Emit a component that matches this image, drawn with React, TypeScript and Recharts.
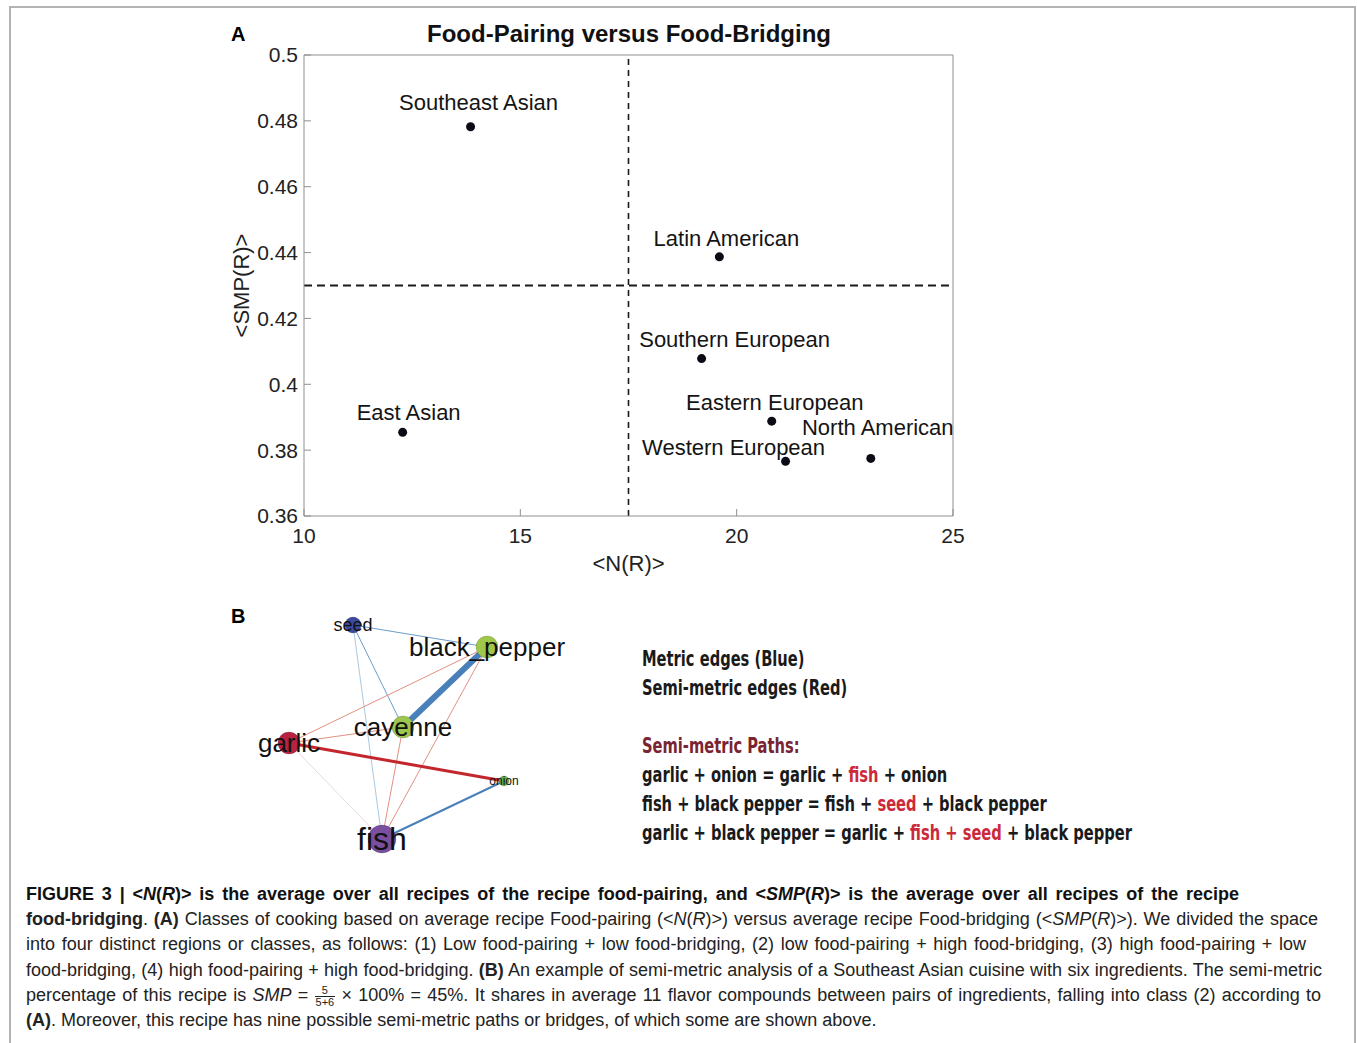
import { ScatterChart, Scatter, XAxis, YAxis, ReferenceLine, Label } from "recharts";

// panel A: average recipe food-pairing <N(R)> vs food-bridging <SMP(R)>
const CUISINES = [
  "Southeast Asian",
  "Latin American",
  "Southern European",
  "Eastern European",
  "North American",
  "Western European",
  "East Asian",
];
const FOOD_PAIRING = [13.85, 19.6, 19.19, 20.81, 23.1, 21.13, 12.28];
const FOOD_BRIDGING = [0.4782, 0.4387, 0.4078, 0.3888, 0.3775, 0.3766, 0.3854];
const X_TICKS = [10, 15, 20, 25];
const Y_TICKS = [0.36, 0.38, 0.4, 0.42, 0.44, 0.46, 0.48, 0.5];
const PAIRING_SPLIT = 17.5;
const BRIDGING_SPLIT = 0.43;

// panel B: ingredient network of one Southeast Asian recipe
const INGREDIENTS = ["seed", "black_pepper", "cayenne", "garlic", "onion", "fish"];
const LAYOUT_X = [113, 247, 163, 49, 264, 142];
const LAYOUT_Y = [240, 218, 138, 122, 84, 26];
const EDGE_FROM = ["seed", "seed", "seed", "black_pepper", "black_pepper", "black_pepper", "cayenne", "cayenne", "garlic", "garlic", "onion"];
const EDGE_TO = ["black_pepper", "cayenne", "fish", "cayenne", "garlic", "fish", "garlic", "fish", "onion", "fish", "fish"];
const EDGE_WEIGHT = [1, 1, 0.6, 6, 1, 1, 1, 1, 3, 0.4, 2];
const EDGE_KIND = ["metric", "metric", "metric", "metric", "semi", "semi", "semi", "semi", "semi", "semi", "metric"];

// label placement (px, relative to the dot)
const LABEL_OFFSET: Record<string, [number, number]> = {
  "Southeast Asian": [8, -24],
  "Latin American": [7, -18],
  "Southern European": [33, -19],
  "Eastern European": [3, -19],
  "North American": [7, -31],
  "Western European": [-52, -14],
  "East Asian": [6, -20],
};

const NODE_COLOR: Record<string, string> = {
  seed: "#3c4b9e",
  black_pepper: "#9fc84b",
  cayenne: "#9cc64d",
  garlic: "#b72241",
  onion: "#6aaf4b",
  fish: "#7a4f9f",
};
const NODE_FONT: Record<number, number> = { 2: 12, 3: 18, 4: 26, 5: 32 };

function edgeColor(kind: string, w: number) {
  if (kind === "metric") return w >= 2 ? "#4a80b9" : w >= 1 ? "#6b9dcc" : "#a9c8e2";
  return w >= 2 ? "#c3262c" : w >= 1 ? "#e2907f" : "#eadada";
}

const cuisineData = CUISINES.map((name, i) => ({ name, x: FOOD_PAIRING[i], y: FOOD_BRIDGING[i] }));

const degree = INGREDIENTS.map(
  (n) => EDGE_FROM.filter((f) => f === n).length + EDGE_TO.filter((t) => t === n).length
);
const nodes = INGREDIENTS.map((name, i) => ({ name, x: LAYOUT_X[i], y: LAYOUT_Y[i], degree: degree[i] }));
const nodeByName = Object.fromEntries(nodes.map((n) => [n.name, n]));

const fmtY = (v: number) => String(Number(v.toFixed(2)));

function CuisineDot(props: any) {
  const { cx, cy, payload } = props;
  const [dx, dy] = LABEL_OFFSET[payload.name] ?? [0, -20];
  return (
    <g>
      <circle cx={cx} cy={cy} r={4.5} fill="#0b0b16" />
      <text x={cx + dx} y={cy + dy} textAnchor="middle" dominantBaseline="central" fontSize={22} fill="#141414">
        {payload.name}
      </text>
    </g>
  );
}

function IngredientNode(props: any) {
  const { cx, cy, payload } = props;
  const r = 3 * payload.degree - 1;
  return (
    <g>
      <circle cx={cx} cy={cy} r={r} fill={NODE_COLOR[payload.name]} stroke="rgba(0,0,0,0.25)" strokeWidth={0.6} />
      <text x={cx} y={cy} textAnchor="middle" dominantBaseline="central" fontSize={NODE_FONT[payload.degree]} fill="#111">
        {payload.name}
      </text>
    </g>
  );
}

const noDot = () => <g />;

const axisTick = { fontSize: 21, fill: "#222" };

function PanelA() {
  return (
    <ScatterChart width={760} height={570} margin={{ top: 34, right: 26, bottom: 14, left: 20 }}>
      <XAxis
        xAxisId="b"
        type="number"
        dataKey="x"
        domain={[10, 25]}
        ticks={X_TICKS}
        tickSize={-7}
        tickMargin={19}
        height={60}
        stroke="#8f8f8f"
        tick={axisTick}
        interval={0}
      >
        <Label value="<N(R)>" position="insideBottom" offset={5} fontSize={22} fill="#222" />
      </XAxis>
      <XAxis xAxisId="t" orientation="top" type="number" dataKey="x" domain={[10, 25]} ticks={X_TICKS} tickSize={-7} tick={false} height={1} stroke="#8f8f8f" />
      <YAxis
        yAxisId="l"
        type="number"
        dataKey="y"
        domain={[0.36, 0.5]}
        ticks={Y_TICKS}
        tickSize={-7}
        tickMargin={13}
        width={64}
        stroke="#8f8f8f"
        tick={axisTick}
        tickFormatter={fmtY}
        interval={0}
      >
        <Label value="<SMP(R)>" angle={-90} position="insideLeft" offset={1} textAnchor="middle" fontSize={22} fill="#222" />
      </YAxis>
      <YAxis yAxisId="r" orientation="right" type="number" dataKey="y" domain={[0.36, 0.5]} ticks={Y_TICKS} tickSize={-7} tick={false} width={1} stroke="#8f8f8f" />
      <ReferenceLine xAxisId="b" yAxisId="l" x={PAIRING_SPLIT} stroke="#1a1a1a" strokeWidth={1.6} strokeDasharray="6 5" />
      <ReferenceLine xAxisId="b" yAxisId="l" y={BRIDGING_SPLIT} stroke="#1a1a1a" strokeWidth={2} strokeDasharray="8 5" />
      <Scatter xAxisId="t" yAxisId="r" data={cuisineData} shape={noDot} isAnimationActive={false} />
      <Scatter xAxisId="b" yAxisId="l" data={cuisineData} shape={<CuisineDot />} isAnimationActive={false} />
    </ScatterChart>
  );
}

function PanelB() {
  return (
    <ScatterChart width={340} height={270} margin={{ top: 0, right: 0, bottom: 0, left: 0 }}>
      <XAxis type="number" dataKey="x" domain={[0, 340]} hide />
      <YAxis type="number" dataKey="y" domain={[0, 270]} hide />
      {EDGE_FROM.map((f, i) => (
        <Scatter
          key={`${f}-${EDGE_TO[i]}`}
          data={[nodeByName[f], nodeByName[EDGE_TO[i]]]}
          line={{ stroke: edgeColor(EDGE_KIND[i], EDGE_WEIGHT[i]), strokeWidth: Math.max(EDGE_WEIGHT[i], 1) }}
          shape={noDot}
          isAnimationActive={false}
        />
      ))}
      <Scatter data={nodes} shape={<IngredientNode />} isAnimationActive={false} />
    </ScatterChart>
  );
}

const red = { color: "#cc2a3a" };

function PathsText() {
  const line = { height: 29, whiteSpace: "nowrap" as const };
  return (
    <div
      style={{
        position: "absolute",
        left: 642,
        top: 645,
        fontSize: 21,
        lineHeight: "29px",
        fontWeight: "bold",
        color: "#1a1a1a",
        fontFamily: "'Liberation Sans Narrow', 'DejaVu Sans Condensed', 'Liberation Sans', sans-serif",
        transform: "scaleX(0.777)",
        transformOrigin: "left top",
      }}
    >
      <div style={line}>Metric edges (Blue)</div>
      <div style={line}>Semi-metric edges (Red)</div>
      <div style={line} />
      <div style={{ ...line, color: "#7a2431" }}>Semi-metric Paths:</div>
      <div style={line}>
        garlic + onion = garlic + <span style={red}>fish</span> + onion
      </div>
      <div style={line}>
        fish + black pepper = fish + <span style={red}>seed</span> + black pepper
      </div>
      <div style={line}>
        garlic + black pepper = garlic + <span style={red}>fish + seed</span> + black pepper
      </div>
    </div>
  );
}

const Nr = () => (
  <>
    &lt;<i>N</i>(<i>R</i>)&gt;
  </>
);
const SMPr = () => (
  <>
    &lt;<i>SMP</i>(<i>R</i>)&gt;
  </>
);

function Caption() {
  const just = (w: number) => ({
    width: w,
    height: 25.2,
    textAlign: "justify" as const,
    textAlignLast: "justify" as const,
    whiteSpace: "nowrap" as const,
    overflow: "visible",
  });
  return (
    <div style={{ position: "absolute", left: 26, top: 882, fontSize: 18, lineHeight: "25.2px", color: "#222" }}>
      <div style={{ ...just(1213), fontWeight: "bold", color: "#111" }}>
        FIGURE 3 | <Nr /> is the average over all recipes of the recipe food-pairing, and <SMPr /> is the average over all recipes of the recipe
      </div>
      <div style={just(1292)}>
        <b>food-bridging</b>. <b>(A)</b> Classes of cooking based on average recipe Food-pairing (<Nr />) versus average recipe Food-bridging (<SMPr />). We divided the space
      </div>
      <div style={just(1280)}>
        into four distinct regions or classes, as follows: (1) Low food-pairing + low food-bridging, (2) low food-pairing + high food-bridging, (3) high food-pairing + low
      </div>
      <div style={just(1296)}>
        food-bridging, (4) high food-pairing + high food-bridging. <b>(B)</b> An example of semi-metric analysis of a Southeast Asian cuisine with six ingredients. The semi-metric
      </div>
      <div style={just(1295)}>
        percentage of this recipe is <i>SMP</i> ={" "}
        <span style={{ display: "inline-flex", flexDirection: "column", alignItems: "center", verticalAlign: "middle", fontSize: 11, lineHeight: "11px" }}>
          <span>5</span>
          <span style={{ borderTop: "1px solid #222", padding: "0 1px" }}>5+6</span>
        </span>{" "}
        × 100% = 45%. It shares in average 11 flavor compounds between pairs of ingredients, falling into class (2) according to
      </div>
      <div style={{ whiteSpace: "nowrap" }}>
        <b>(A)</b>. Moreover, this recipe has nine possible semi-metric paths or bridges, of which some are shown above.
      </div>
    </div>
  );
}

export default function App() {
  return (
    <div
      style={{
        position: "absolute",
        left: 0,
        top: 0,
        width: 1357,
        height: 1043,
        overflow: "hidden",
        background: "#fff",
        fontFamily: "'Liberation Sans', Arial, sans-serif",
      }}
    >
      <div style={{ position: "absolute", left: 9, top: 6, width: 1343, height: 1100, border: "2px solid #b3b3b3" }} />
      <div style={{ position: "absolute", left: 231, top: 23, fontSize: 20, fontWeight: "bold" }}>A</div>
      <div style={{ position: "absolute", left: 231, top: 605, fontSize: 20, fontWeight: "bold" }}>B</div>
      <div style={{ position: "absolute", left: 329, width: 600, top: 20, textAlign: "center", fontSize: 24, fontWeight: "bold", color: "#111" }}>
        Food-Pairing versus Food-Bridging
      </div>
      <div style={{ position: "absolute", left: 220, top: 20 }}>
        <PanelA />
      </div>
      <div style={{ position: "absolute", left: 240, top: 595 }}>
        <PanelB />
      </div>
      <PathsText />
      <Caption />
    </div>
  );
}
